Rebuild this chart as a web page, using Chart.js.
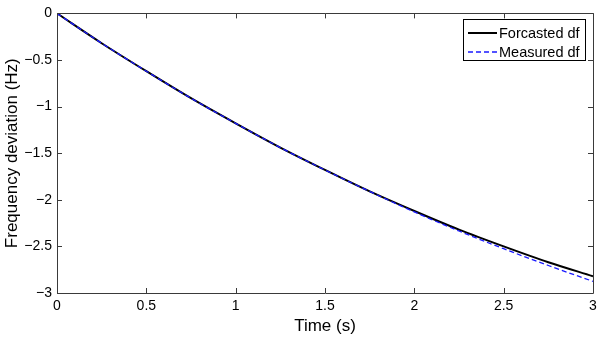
<!DOCTYPE html>
<html>
<head>
<meta charset="utf-8">
<script src="https://cdn.jsdelivr.net/npm/chart.js@4.4.0/dist/chart.umd.min.js"></script>
<style>
  html, body { margin: 0; padding: 0; background: #fff; }
  #wrap { width: 602px; height: 337px; }
</style>
</head>
<body>
<div id="wrap"><canvas id="dfChart" width="602" height="337"></canvas></div>
<script>
// values
const time_s = [0, 0.25, 0.5, 0.75, 1, 1.25, 1.5, 1.75, 2, 2.25, 2.5, 2.75, 3];
const forecast_df = [0, -0.32, -0.62, -0.91, -1.18, -1.44, -1.68, -1.91, -2.12, -2.32, -2.50, -2.67, -2.82];
const measured_df = [0, -0.32, -0.62, -0.91, -1.18, -1.44, -1.68, -1.91, -2.13, -2.335, -2.525, -2.705, -2.875];
const x_ticks = [0, 0.5, 1, 1.5, 2, 2.5, 3];
const y_ticks = [0, -0.5, -1, -1.5, -2, -2.5, -3];

const fontFam = "'Liberation Sans', Arial, Helvetica, sans-serif";

function pts(xs, ys) {
    return xs.map((x, i) => ({ x: x, y: ys[i] }));
}

function fmt(v) {
    let s = String(Math.abs(v));
    return v < 0 ? '\u2212' + s : s;
}

// inward ticks on all four sides + box + legend inside the plot
const framePlugin = {
    id: 'frame',
    afterDraw(chart) {
        const ctx = chart.ctx;
        const a = chart.chartArea;
        const xs = chart.scales.x, ys = chart.scales.y;
        const tl = 5;
        ctx.save();
        ctx.strokeStyle = '#3a3a3a';
        ctx.lineWidth = 1;
        ctx.beginPath();
        ctx.rect(Math.round(a.left) + 0.5, Math.round(a.top) + 0.5,
            Math.round(a.right - a.left), Math.round(a.bottom - a.top));
        x_ticks.forEach(v => {
            let px = Math.round(xs.getPixelForValue(v)) + 0.5;
            ctx.moveTo(px, a.bottom); ctx.lineTo(px, a.bottom - tl);
            ctx.moveTo(px, a.top); ctx.lineTo(px, a.top + tl);
        });
        y_ticks.forEach(v => {
            let py = Math.round(ys.getPixelForValue(v)) + 0.5;
            ctx.moveTo(a.left, py); ctx.lineTo(a.left + tl, py);
            ctx.moveTo(a.right, py); ctx.lineTo(a.right - tl, py);
        });
        ctx.stroke();

        // legend
        const bx = 463.5, by = 19.5, bw = 122, bh = 41;
        ctx.fillStyle = '#fff';
        ctx.fillRect(bx, by, bw, bh);
        ctx.strokeStyle = '#000';
        ctx.strokeRect(bx, by, bw, bh);
        ctx.font = '14.5px ' + fontFam;
        ctx.textBaseline = 'middle';
        ctx.fillStyle = '#000';
        const rows = [33, 52];
        chart.data.datasets.forEach((ds, i) => {
            ctx.beginPath();
            ctx.strokeStyle = ds.borderColor;
            ctx.lineWidth = ds.borderWidth;
            ctx.setLineDash(ds.borderDash || []);
            ctx.moveTo(468, rows[i]); ctx.lineTo(497, rows[i]);
            ctx.stroke();
            ctx.setLineDash([]);
            ctx.fillText(ds.label, 499, rows[i] + 0.5);
        });
        ctx.restore();
    }
};

const dfChart = new Chart(document.getElementById('dfChart'), {
    type: 'line',
    data: {
        datasets: [{
            label: 'Forcasted df',
            data: pts(time_s, forecast_df),
            borderColor: '#000000',
            borderWidth: 2,
            pointRadius: 0,
            cubicInterpolationMode: 'monotone',
            order: 1,
        }, {
            label: 'Measured df',
            data: pts(time_s, measured_df),
            borderColor: '#1a1aff',
            borderWidth: 1.3,
            borderDash: [5, 3],
            pointRadius: 0,
            cubicInterpolationMode: 'monotone',
            order: 0,
        }]
    },
    options: {
        responsive: false,
        animation: false,
        layout: { padding: { top: 11, right: 9, left: 2, bottom: 0 } },
        plugins: {
            legend: { display: false },
            tooltip: { enabled: false },
        },
        scales: {
            x: {
                type: 'linear',
                min: 0, max: 3,
                afterBuildTicks: s => { s.ticks = x_ticks.map(v => ({ value: v })); },
                afterFit: s => { s.height = 44; },
                grid: { display: false, drawTicks: false },
                border: { display: false },
                ticks: {
                    color: '#000', padding: 5,
                    font: { family: fontFam, size: 14 },
                    callback: v => fmt(v),
                },
                title: {
                    display: true, text: 'Time (s)', color: '#000',
                    font: { family: fontFam, size: 17 },
                    padding: { top: 0, bottom: 0 },
                },
            },
            y: {
                type: 'linear',
                min: -3, max: 0,
                afterBuildTicks: s => { s.ticks = y_ticks.map(v => ({ value: v })); },
                afterFit: s => { s.width = 55; },
                grid: { display: false, drawTicks: false },
                border: { display: false },
                ticks: {
                    color: '#000', padding: 5,
                    font: { family: fontFam, size: 14 },
                    callback: v => fmt(v),
                },
                title: {
                    display: true, text: 'Frequency deviation (Hz)', color: '#000',
                    font: { family: fontFam, size: 17 },
                    padding: { top: 0, bottom: 0 },
                },
            }
        }
    },
    plugins: [framePlugin]
});
</script>
</body>
</html>
